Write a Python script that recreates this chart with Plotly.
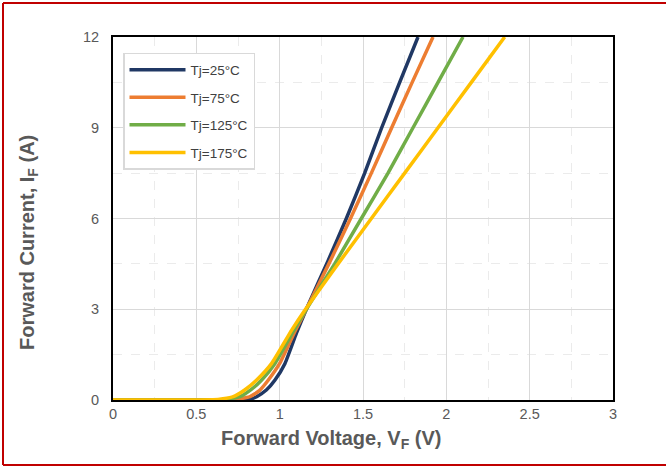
import plotly.graph_objects as go

series_names = ["Tj=25°C", "Tj=75°C", "Tj=125°C", "Tj=175°C"]
series_colors = ["#203864", "#ED7D31", "#70AD47", "#FFC000"]

v_25 = [0, 0.70, 0.78, 0.83, 0.862, 0.92, 0.972, 1.032, 1.10, 1.16, 1.29, 1.40, 1.51, 1.612, 1.72, 1.83]
i_25 = [0, 0, 0.005, 0.04, 0.11, 0.33, 0.66, 1.21, 2.2, 3.0, 4.6, 6.0, 7.5, 9.0, 10.5, 12]

v_75 = [0, 0.62, 0.70, 0.76, 0.822, 0.88, 0.932, 1.0, 1.09, 1.16, 1.295, 1.425, 1.55, 1.672, 1.795, 1.92]
i_75 = [0, 0, 0.005, 0.04, 0.11, 0.32, 0.66, 1.21, 2.25, 3.0, 4.5, 6.0, 7.5, 9.0, 10.5, 12]

v_125 = [0, 0.55, 0.64, 0.70, 0.762, 0.83, 0.892, 0.972, 1.08, 1.16, 1.33, 1.49, 1.65, 1.80, 1.95, 2.10]
i_125 = [0, 0, 0.005, 0.04, 0.11, 0.35, 0.66, 1.21, 2.25, 3.0, 4.5, 6.0, 7.5, 9.0, 10.5, 12]

v_175 = [0, 0.50, 0.60, 0.66, 0.722, 0.79, 0.862, 0.952, 1.072, 1.155, 1.35, 1.55, 1.75, 1.95, 2.15, 2.35]
i_175 = [0, 0, 0.005, 0.04, 0.11, 0.33, 0.66, 1.21, 2.31, 3.0, 4.5, 6.0, 7.5, 9.0, 10.5, 12]

series_v = [v_25, v_75, v_125, v_175]
series_i = [i_25, i_75, i_125, i_175]

x_title = "Forward Voltage, V<sub>F</sub> (V)"
y_title = "Forward Current, I<sub>F</sub> (A)"

fig = go.Figure()
for k in range(4):
    fig.add_trace(go.Scatter(
        x=series_v[k], y=series_i[k], mode="lines", name=series_names[k],
        line=dict(color=series_colors[k], width=3.5, shape="spline", smoothing=0.5),
        legendgroup=str(k),
    ))

font_family = "Liberation Sans, Arial, sans-serif"
border = dict(color="#C00000", width=2)

fig.update_layout(
    width=666, height=466,
    margin=dict(l=113, r=53, t=37, b=66),
    paper_bgcolor="white", plot_bgcolor="white",
    font=dict(family=font_family, color="#595959"),
    showlegend=True,
    legend=dict(
        x=0.02, y=0.956, xanchor="left", yanchor="top",
        bordercolor="#D9D9D9", borderwidth=1.5, bgcolor="white",
        font=dict(size=13.5, color="#404040"),
        itemwidth=56, tracegroupgap=7, traceorder="grouped",
    ),
    shapes=[
        dict(type="line", xref="paper", yref="paper", x0=-0.22, x1=-0.22, y0=-0.179, y1=1.094, line=border, layer="below"),
        dict(type="line", xref="paper", yref="paper", x0=-0.22, x1=1.106, y0=1.094, y1=1.094, line=border, layer="below"),
        dict(type="line", xref="paper", yref="paper", x0=-0.22, x1=1.106, y0=-0.179, y1=-0.179, line=border, layer="below"),
    ],
    annotations=[
        dict(text=x_title, xref="paper", yref="paper", x=0.436, y=-0.110,
             xanchor="center", yanchor="middle", showarrow=False,
             font=dict(size=20, color="#595959", weight="bold")),
        dict(text=y_title, xref="paper", yref="paper", x=-0.17, y=0.4325,
             xanchor="center", yanchor="middle", showarrow=False, textangle=-90,
             font=dict(size=20, color="#595959", weight="bold")),
    ],
)

fig.update_xaxes(
    range=[0, 3], dtick=0.5, tick0=0,
    showline=True, linecolor="black", linewidth=2, mirror=True,
    showgrid=True, gridcolor="#D9D9D9", gridwidth=1,
    zeroline=False, ticks="",
    tickfont=dict(size=14.5, color="#595959"),
    minor=dict(dtick=0.25, showgrid=True, gridcolor="#EBEBEB", griddash="dash", gridwidth=1),
)
fig.update_yaxes(
    range=[0, 12], dtick=3, tick0=0,
    showline=True, linecolor="black", linewidth=2, mirror=True,
    showgrid=True, gridcolor="#D9D9D9", gridwidth=1,
    zeroline=False, ticks="", ticklabelstandoff=9,
    tickfont=dict(size=14.5, color="#595959"),
    minor=dict(dtick=1.5, showgrid=True, gridcolor="#EBEBEB", griddash="dash", gridwidth=1),
)

fig.write_html("out.html", config={"displayModeBar": False},
               post_script="document.body.style.margin='0px';")
